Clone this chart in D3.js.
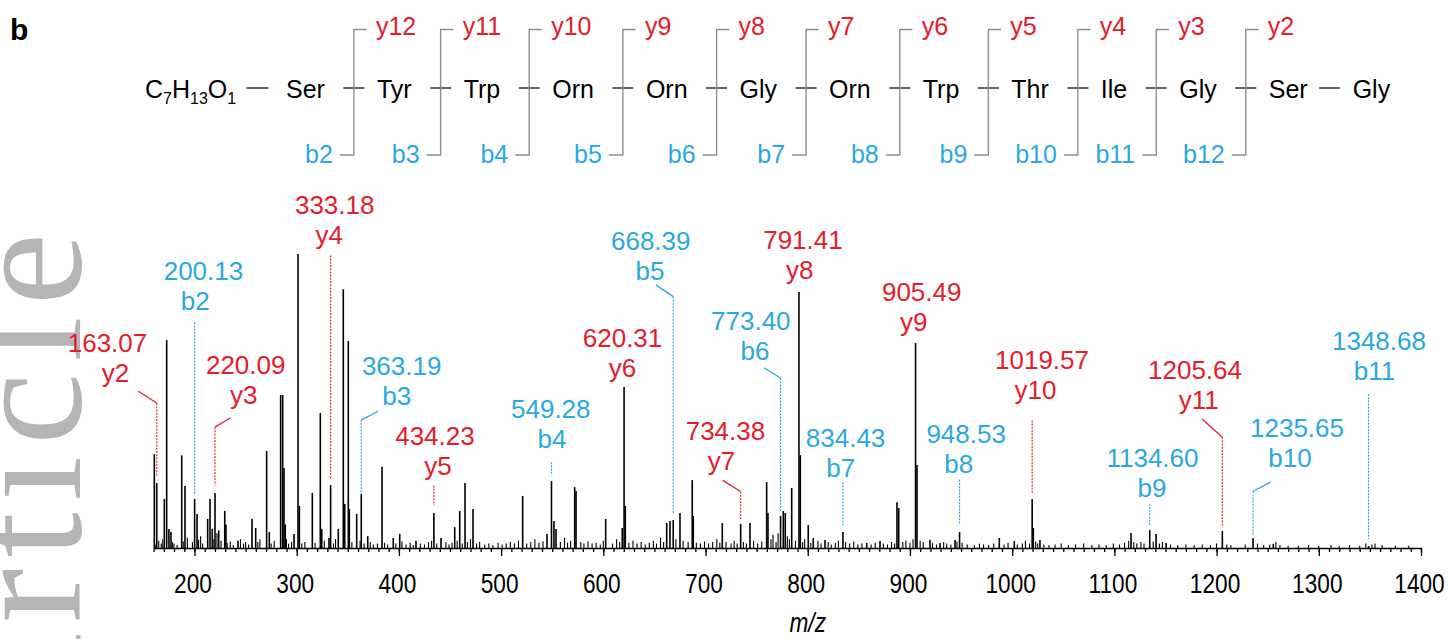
<!DOCTYPE html>
<html>
<head>
<meta charset="utf-8">
<script src="https://cdn.jsdelivr.net/npm/d3@7/dist/d3.min.js"></script>
<style>
  body { margin: 0; background: #fff; }
  svg text { font-family: "Liberation Sans", Arial, sans-serif; }
</style>
</head>
<body>
<div id="chart"></div>
<script>
// peptide sequence
var residues = ["Ser", "Tyr", "Trp", "Orn", "Orn", "Gly", "Orn", "Trp", "Thr", "Ile", "Gly", "Ser", "Gly"];
var yIons = ["y12", "y11", "y10", "y9", "y8", "y7", "y6", "y5", "y4", "y3", "y2"];
var bIons = ["b2", "b3", "b4", "b5", "b6", "b7", "b8", "b9", "b10", "b11", "b12"];

// main peaks: m/z and relative intensity (%)
var peakMz = [160.7, 163.07, 170.5, 172.8, 175, 177, 187.5, 190.7, 200.13, 202.5, 212.9, 215.2, 217.4, 220.09, 223.7,
  229.6, 230.8, 242.6, 256.3, 259.9, 270.6, 273.2, 284.3, 286.3, 287.6, 288.8, 297.4, 301.3, 302.6, 315.3,
  323.1, 324.5, 331.6, 333.18, 340.7, 345.6, 347, 350.5, 351.5, 358.7, 363.19, 369.5, 383.5, 394.5, 400.8,
  416.7, 434.23, 441.2, 454.6, 459.5, 464.7, 472.5, 521.1, 544.9, 549.28, 551.7, 553.7, 572, 573.3, 602.3,
  618.5, 620.31, 621.5, 662, 665.2, 668.39, 675, 687, 688, 716.4, 734.38, 743.5, 759.8, 761.1, 773.4,
  776.1, 778, 784.3, 791.41, 792.7, 800.5, 805.4, 816.9, 834.43, 857.7, 870.7, 887.3, 889, 905.49, 906.9,
  919.6, 929.4, 944.1, 948.53, 987.4, 1002.1, 1019.57, 1020.7, 1027.2, 1116.3, 1134.6, 1140.8, 1150.6, 1205.64, 1235.65,
  1255.5, 1348.68];
var peakInt = [31.9, 22.1, 16.7, 70.7, 6.5, 5.4, 31.5, 21.1, 16.7, 11.6, 9.9, 16.7, 6.5, 18.7, 6,
  12.6, 8, 2.5, 9.9, 6.8, 33, 5.4, 52, 52, 27.2, 8, 4.8, 100, 14.3, 18.7,
  45.9, 6.5, 3.4, 21.4, 6.5, 88, 15, 70.4, 13.3, 11.6, 18.4, 4, 27.6, 3.4, 4.8,
  2.5, 11.9, 3.4, 7.1, 12.6, 22.1, 13.3, 17.7, 4.8, 22.8, 9.2, 6.5, 20.7, 19.4, 9.9,
  6.8, 54.8, 14.3, 8.5, 9.2, 9.5, 11.9, 23.1, 10.9, 8.5, 8.2, 8.5, 22.4, 11.9, 10.9,
  12.6, 11.9, 20.4, 87.1, 31.6, 7.8, 3.4, 2.7, 5.4, 1.7, 2.4, 15.6, 13.6, 69.7, 28.2,
  2.7, 1.7, 2.7, 5.4, 3.4, 2.4, 16.7, 6.8, 2.7, 5.1, 6.1, 4.8, 1.7, 5.8, 3.4,
  1.4, 0.7];

// small background peaks
var noiseMz = [161.5, 165, 167.5, 169, 178.5, 180, 183, 189, 193, 198, 204, 206, 208, 219, 222, 226, 232, 235, 238, 245,
  248, 250, 253, 262, 264, 275, 278, 290, 292, 295, 305, 308, 318, 327, 336, 338, 354, 362, 366, 372,
  375, 379, 386, 389, 397, 403, 407, 411, 414, 421, 425, 429, 432, 437, 446, 449, 452, 457, 462, 467,
  470, 476, 479, 484, 488, 492, 497, 501, 505, 509, 513, 517, 525, 529, 533, 537, 541, 558, 562, 565,
  568, 578, 581, 585, 589, 593, 597, 600, 609, 613, 616, 625, 629, 633, 637, 641, 645, 649, 652, 656,
  659, 671, 678, 683, 691, 695, 699, 703, 707, 711, 714, 720, 725, 728, 731, 737, 740, 747, 751, 755,
  764, 766, 769, 771, 780, 782, 788, 795, 797, 803, 810, 813, 820, 823, 827, 830, 837, 841, 845, 849,
  853, 862, 866, 874, 878, 882, 885, 893, 896, 900, 903, 910, 913, 922, 926, 933, 936, 940, 946, 951,
  956, 963, 968, 972, 977, 982, 992, 996, 1005, 1010, 1013, 1017, 1023, 1025, 1031, 1036, 1042, 1048, 1055, 1062,
  1070, 1078, 1085, 1092, 1099, 1105, 1110, 1114, 1119, 1122, 1126, 1129, 1138, 1144, 1147, 1155, 1162, 1170, 1178, 1186,
  1194, 1200, 1210, 1214, 1228, 1240, 1246, 1252, 1258, 1262, 1270, 1280, 1290, 1300, 1312, 1320, 1330, 1340, 1346, 1352,
  1355, 1362, 1375, 1388];
var noiseInt = [1.2, 2.5, 1.5, 3, 2, 1.5, 1, 2.2, 3.5, 2, 2.8, 4, 1.5, 3, 5, 2.5, 1.8, 2.2, 1, 3,
  1.5, 2, 1.2, 2, 3, 1.5, 2.5, 3, 1.5, 2, 1.5, 2, 1.8, 2.5, 1.5, 3, 2, 2.5, 1.5, 2,
  1.2, 1.5, 1.8, 1.2, 1.5, 2.2, 1.2, 1.8, 1, 1.5, 1.2, 2, 2.5, 1.5, 2, 1.2, 1.8, 2.5, 1.5, 2,
  3, 1.5, 2, 1.2, 1.5, 1, 1.8, 1.2, 1.5, 2, 1.5, 2.5, 1.5, 2, 3, 1.8, 2.2, 2, 3.5, 1.8,
  2.5, 2, 1.5, 2.2, 1.5, 1.8, 1.2, 2.5, 1.5, 3, 2, 1.8, 2.5, 1.5, 2, 1.2, 1.8, 2.5, 1.5, 3.5,
  2, 3, 2.5, 2, 1.8, 1.5, 2.2, 1.5, 2, 3, 1.8, 2, 1.5, 2.5, 1.5, 2, 1.5, 2.5, 1.5, 2.2,
  3, 4.5, 2, 5, 4, 3, 2.5, 2, 3, 1.8, 2.5, 1.5, 2, 1.2, 1.8, 2.5, 2, 1.5, 2.2, 1.2,
  1.5, 1.2, 1.8, 1.5, 1.2, 2, 1.5, 2, 2.5, 1.8, 3, 2.5, 2, 1.8, 1.2, 2, 1.5, 1.2, 2.2, 1.8,
  1.2, 1, 1.5, 1.2, 1, 1.5, 1.2, 1.8, 1.2, 1.5, 2.5, 1.5, 2.2, 1.5, 1.2, 1, 1.2, 1.5, 1, 1.2,
  1.5, 1, 1.2, 1, 1.5, 1.2, 1.8, 2.5, 2, 1.5, 2, 1.5, 2.2, 1.5, 2, 1.2, 1, 1.2, 1, 1.2,
  1, 1.5, 1.2, 1, 1.2, 1.5, 1, 1.2, 2, 1, 0.8, 0.8, 1, 0.8, 1, 0.8, 1, 0.8, 1.5, 1.2,
  1.5, 1, 0.8, 0.8];

// annotated fragment ions
var ionMz = [163.07, 200.13, 220.09, 333.18, 363.19, 434.23, 549.28, 620.31, 668.39, 734.38,
  773.40, 791.41, 834.43, 905.49, 948.53, 1019.57, 1134.60, 1205.64, 1235.65, 1348.68];
var ionName = ["y2", "b2", "y3", "y4", "b3", "y5", "b4", "y6", "b5", "y7",
  "b6", "y8", "b7", "y9", "b8", "y10", "b9", "y11", "b10", "b11"];

var tickLabels = [200, 300, 400, 500, 600, 700, 800, 900, 1000, 1100, 1200, 1300, 1400];

// label placement in data units: mass x, name x, mass baseline level, kink [x, top, bottom], dotted top, dotted bottom
var labelLayout = [
  [114.9, 122.7, 66.6, [145.0, 53.3, 49.3], 49.3, 24.7],
  [208.8, 200.8, 91.0, null, 76.8, 17.9],
  [250.1, 248.1, 59.3, [235.4, 44.3, 41.1], 41.1, 21.3],
  [337.2, 331.9, 113.7, null, 99.5, 23.7],
  [402.7, 397.8, 58.9, [379.8, 46.5, 43.6], 43.6, 19.0],
  [435.3, 438.2, 34.9, null, 21.3, 14.5],
  [548.6, 549.8, 44.3, null, 29.2, 24.7],
  [618.8, 618.8, 68.3, null, null, null],
  [646.4, 645.6, 101.2, [651.5, 89.5, 85.5], 85.5, 11.6],
  [719.5, 715.6, 36.8, [716.8, 23.0, 19.2], 19.2, 9.4],
  [744.3, 748.4, 74.0, [757.2, 61.3, 57.8], 57.8, 12.2],
  [795.3, 792.1, 101.8, null, null, null],
  [837.0, 832.3, 34.3, null, 22.4, 7.7],
  [911.5, 903.7, 83.9, null, null, null],
  [955.0, 947.8, 35.6, null, 23.2, 8.2],
  [1029.2, 1022.8, 61.0, null, 43.4, 18.4],
  [1137.3, 1136.8, 27.5, null, 15.0, 7.7],
  [1178.9, 1182.6, 57.6, [1185.8, 43.9, 37.7], 37.7, 7.1],
  [1278.7, 1271.8, 37.7, [1252.9, 22.4, 19.3], 19.3, 4.3],
  [1358.9, 1354.5, 67.2, null, 52.4, 3.1]
];

var red = "#e3202a";
var blue = "#29a9e0";
var bracketGray = "#8f8f8f";

var width = 1448, height = 639;

const svg = d3.select("#chart")
    .append("svg")
    .attr("width", width)
    .attr("height", height)

// watermark
svg.append("text")
    .attr("transform", "translate(80,222) rotate(-90)")
    .attr("text-anchor", "end")
    .style("font-family", '"Liberation Serif", "Times New Roman", serif')
    .attr("font-size", 163)
    .attr("letter-spacing", 11)
    .attr("fill", "#b5b5b5")
    .text("Article")

// panel letter
svg.append("text")
    .attr("x", 10)
    .attr("y", 40)
    .attr("font-size", 30)
    .attr("font-weight", "bold")
    .text("b")

// ---- sequence header ----
var seqY = 98, bondY = 88;
var head = svg.append("g")

var formula = head.append("text").attr("x", 145).attr("y", seqY).attr("font-size", 25)
var parts = [["C", 0], ["7", 1], ["H", 0], ["13", 1], ["O", 0], ["1", 1]]
parts.forEach(function (p, i) {
    var prevSub = i > 0 && parts[i - 1][1]
    formula.append("tspan")
        .attr("font-size", p[1] ? 16 : 25)
        .attr("dy", p[1] ? 6 : (prevSub ? -6 : 0))
        .text(p[0])
})

function bond(x1, x2) {
    head.append("line")
        .attr("x1", x1).attr("x2", x2)
        .attr("y1", bondY).attr("y2", bondY)
        .attr("stroke", "#111").attr("stroke-width", 1.3)
}

bond(246.5, 268.5)

var cx = 286;
residues.forEach(function (r, i) {
    var t = head.append("text").attr("x", cx).attr("y", seqY).attr("font-size", 25).text(r)
    var w = t.node().getComputedTextLength()
    if (i < residues.length - 2) {
        var xv = cx + w + 29
        // bond across bracket
        head.append("line")
            .attr("x1", xv - 10.5).attr("x2", xv + 10.5)
            .attr("y1", bondY).attr("y2", bondY)
            .attr("stroke", "#111").attr("stroke-width", 1.3)
        head.append("path")
            .attr("d", `M${xv + 12.7},29.5L${xv},29.5L${xv},155L${xv - 14},155`)
            .attr("fill", "none")
            .attr("stroke", bracketGray)
            .attr("stroke-width", 1.4)
        head.append("text")
            .attr("x", xv + 22).attr("y", 35)
            .attr("font-size", 25).attr("fill", red)
            .text(yIons[i])
        head.append("text")
            .attr("x", xv - 21).attr("y", 163)
            .attr("text-anchor", "end")
            .attr("font-size", 25).attr("fill", blue)
            .text(bIons[i])
        cx = xv + 23
    } else if (i == residues.length - 2) {
        bond(cx + w + 11.5, cx + w + 32.5)
        cx = cx + w + 45
    }
})

// ---- spectrum ----
var x = d3.scaleLinear()
    .domain([160, 1400])
    .range([153.6, 1421])

var y = d3.scaleLinear()
    .domain([0, 100])
    .range([548, 254])

var peaks = svg.append("g")

peaks.selectAll("line.noise")
    .data(d3.zip(noiseMz, noiseInt))
    .join("line")
    .attr("class", "noise")
    .attr("x1", d => x(d[0])).attr("x2", d => x(d[0]))
    .attr("y1", y(0)).attr("y2", d => y(d[1]))
    .attr("stroke", "#000").attr("stroke-width", 1.1)

peaks.selectAll("line.peak")
    .data(d3.zip(peakMz, peakInt))
    .join("line")
    .attr("class", "peak")
    .attr("x1", d => x(d[0])).attr("x2", d => x(d[0]))
    .attr("y1", y(0)).attr("y2", d => y(d[1]))
    .attr("stroke", "#000").attr("stroke-width", 1.6)

// annotations
var ann = svg.append("g")
ionMz.forEach(function (mz, i) {
    var L = labelLayout[i]
    var col = ionName[i][0] == "y" ? red : blue
    ann.append("text")
        .attr("x", x(L[0])).attr("y", y(L[2]))
        .attr("text-anchor", "middle")
        .attr("font-size", 26).attr("fill", col)
        .text(mz.toFixed(2))
    ann.append("text")
        .attr("x", x(L[1])).attr("y", y(L[2]) + 30)
        .attr("text-anchor", "middle")
        .attr("font-size", 26).attr("fill", col)
        .text(ionName[i])
    if (L[3]) {
        ann.append("line")
            .attr("x1", x(L[3][0])).attr("y1", y(L[3][1]))
            .attr("x2", x(mz)).attr("y2", y(L[3][2]))
            .attr("stroke", col).attr("stroke-width", 1.3)
    }
    if (L[4] != null) {
        ann.append("line")
            .attr("x1", x(mz)).attr("x2", x(mz))
            .attr("y1", y(L[4])).attr("y2", y(L[5]))
            .attr("stroke", col).attr("stroke-width", 1.1)
            .attr("stroke-dasharray", "2,1.2")
    }
})

// axis: minor ticks every 10, labelled every 100
var axisG = svg.append("g").attr("transform", `translate(0,${y(0)})`)

axisG.append("g")
    .call(d3.axisBottom(x).tickValues(d3.range(160, 1401, 10)).tickSize(4).tickSizeOuter(0).tickFormat(""))

axisG.append("g")
    .call(d3.axisBottom(x).tickValues(tickLabels).tickSize(8).tickSizeOuter(0).tickPadding(18).tickFormat(d3.format("d")))
    .call(g => g.select(".domain").remove())
    .selectAll("text")
    .attr("font-size", 27)
    .attr("transform", "translate(-2,0) scale(0.84,1)")
    .style("font-family", '"Liberation Sans", Arial, sans-serif')

axisG.selectAll("path, line").attr("stroke", "#000").attr("stroke-width", 1.3)

svg.append("text")
    .attr("transform", `translate(${x(800)},632) scale(0.84,1)`)
    .attr("text-anchor", "middle")
    .attr("font-size", 27)
    .attr("font-style", "italic")
    .text("m/z")
</script>
</body>
</html>
